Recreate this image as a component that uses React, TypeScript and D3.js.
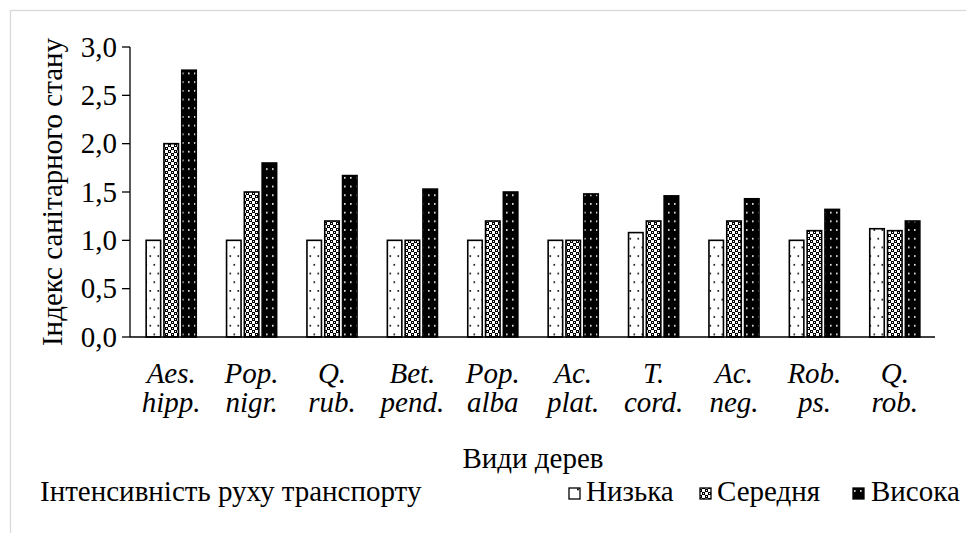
import React from "react";
import * as d3 from "d3";

const categoriesTop = ["Aes.", "Pop.", "Q.", "Bet.", "Pop.", "Ac.", "T.", "Ac.", "Rob.", "Q."];
const categoriesBottom = ["hipp.", "nigr.", "rub.", "pend.", "alba", "plat.", "cord.", "neg.", "ps.", "rob."];
const seriesNames = ["Низька", "Середня", "Висока"];
const lowValues = [1.0, 1.0, 1.0, 1.0, 1.0, 1.0, 1.08, 1.0, 1.0, 1.12];
const midValues = [2.0, 1.5, 1.2, 1.0, 1.2, 1.0, 1.2, 1.2, 1.1, 1.1];
const highValues = [2.76, 1.8, 1.67, 1.53, 1.5, 1.48, 1.46, 1.43, 1.32, 1.2];
const yTicks = [0, 0.5, 1.0, 1.5, 2.0, 2.5, 3.0];

const W = 974;
const H = 533;
const FS = 29;
const FAMILY = '"Liberation Serif", "Times New Roman", Tinos, Times';

function T(props: any) {
  const { children, ...rest } = props;
  return (
    <text fontSize={FS} fill="#000" style={{ fontFamily: FAMILY }} {...rest}>
      {children}
    </text>
  );
}

export default function App() {
  const x0 = d3.scaleBand<number>().domain(d3.range(categoriesTop.length)).range([131, 935]).paddingInner(0).paddingOuter(0);
  const y = d3.scaleLinear().domain([0, 3]).range([337, 47]);
  const series = [lowValues, midValues, highValues];
  const fills = ["url(#pLow)", "url(#pMid)", "url(#pHigh)"];
  const bw = 14.5;
  const pitch = 17.8;
  const fmt = (v: number) => v.toFixed(1).replace(".", ",");

  const legendItems = [
    { sx: 569, tx: 586 },
    { sx: 700, tx: 717 },
    { sx: 853, tx: 871 },
  ];

  return (
    <div style={{ margin: "-8px 0 0 -8px", width: W, height: H, fontFamily: FAMILY }}>
      <style>{`svg text { font-family: "Liberation Serif", "Times New Roman", Tinos, Times !important; }`}</style>
      <svg width={W} height={H} style={{ display: "block" }}>
        <defs>
          <pattern id="pLow" patternUnits="userSpaceOnUse" width={8} height={17.4}>
            <rect width={8} height={17.4} fill="#fff" />
            <rect x={1.5} y={3} width={1.6} height={1.6} fill="#000" />
            <rect x={5.5} y={11.7} width={1.6} height={1.6} fill="#000" />
          </pattern>
          <pattern id="pLowLeg" patternUnits="userSpaceOnUse" width={11} height={11}>
            <rect width={11} height={11} fill="#fff" />
            <rect x={5} y={4.5} width={1.8} height={1.8} fill="#000" />
          </pattern>
          <pattern id="pMid" patternUnits="userSpaceOnUse" width={6} height={6}>
            <rect width={6} height={6} fill="#fff" />
            <rect x={0} y={0} width={3} height={3} fill="#000" />
            <rect x={3} y={3} width={3} height={3} fill="#000" />
            <rect x={1} y={1} width={1} height={1} fill="#fff" />
            <rect x={4} y={4} width={1} height={1} fill="#fff" />
          </pattern>
          <pattern id="pHigh" patternUnits="userSpaceOnUse" width={6} height={8.7}>
            <rect width={6} height={8.7} fill="#000" />
            <rect x={2} y={3} width={1.6} height={1.6} fill="#fff" />
          </pattern>
        </defs>

        <rect x={10.5} y={10.5} width={960} height={540} fill="none" stroke="#d9d9d9" strokeWidth={1.3} />

        {categoriesTop.map((_, i) => {
          const cx = (x0(i) as number) + x0.bandwidth() / 2;
          return series.map((vals, s) => {
            const bx = cx + (s - 1) * pitch - bw / 2;
            return (
              <rect
                key={`${i}-${s}`}
                x={bx}
                y={y(vals[i])}
                width={bw}
                height={y(0) - y(vals[i])}
                fill={fills[s]}
                stroke="#000"
                strokeWidth={1.6}
              />
            );
          });
        })}

        <line x1={130} x2={130} y1={y(3)} y2={y(0)} stroke="#000" strokeWidth={1.3} />
        {yTicks.map((t) => (
          <g key={t}>
            <line x1={122} x2={130} y1={y(t)} y2={y(t)} stroke="#000" strokeWidth={1.3} />
            <T x={117} y={y(t)} dy="0.33em" textAnchor="end">
              {fmt(t)}
            </T>
          </g>
        ))}
        <line x1={130} x2={935} y1={y(0)} y2={y(0)} stroke="#000" strokeWidth={1.3} />

        {categoriesTop.map((c, i) => {
          const cx = (x0(i) as number) + x0.bandwidth() / 2;
          return (
            <g key={`lab${i}`}>
              <T x={cx} y={383} textAnchor="middle" fontStyle="italic">
                {c}
              </T>
              <T x={cx} y={412} textAnchor="middle" fontStyle="italic">
                {categoriesBottom[i]}
              </T>
            </g>
          );
        })}

        <T x={533} y={468} textAnchor="middle">
          Види дерев
        </T>
        <T transform={`translate(62, ${(y(0) + y(3)) / 2}) rotate(-90)`} textAnchor="middle">
          Індекс санітарного стану
        </T>

        <T x={40} y={501}>
          Інтенсивність руху транспорту
        </T>
        {seriesNames.map((n, s) => (
          <g key={n}>
            <rect
              x={legendItems[s].sx}
              y={488}
              width={11}
              height={11}
              fill={s === 0 ? "url(#pLowLeg)" : fills[s]}
              stroke="#000"
              strokeWidth={1.3}
            />
            <T x={legendItems[s].tx} y={501}>
              {n}
            </T>
          </g>
        ))}
      </svg>
    </div>
  );
}
